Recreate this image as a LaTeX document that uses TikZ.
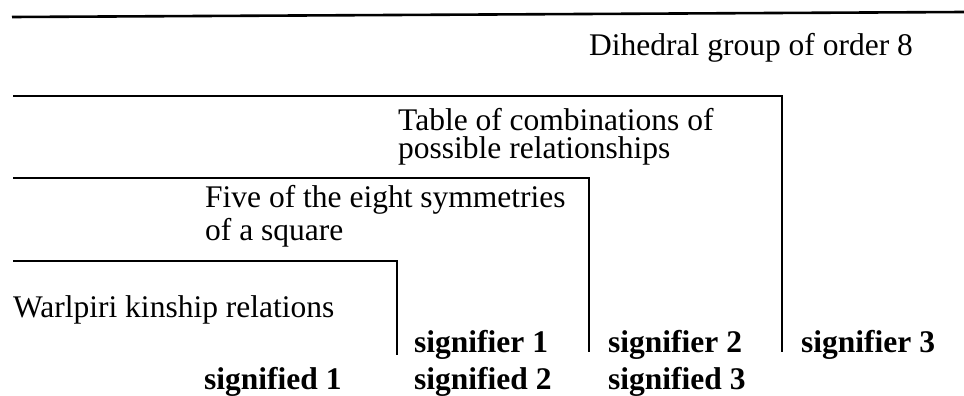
\documentclass[tikz,border=0pt]{standalone}
\usepackage{fontspec}
\setmainfont{Liberation Serif}
\newcommand{\twolines}[3]{\vtop{\baselineskip=#1\lineskiplimit=-100pt\lineskip=0pt\hbox{#2}\hbox{#3}}}
\begin{document}
\begin{tikzpicture}[x=1pt,y=-1pt,
  txt/.style={anchor=base west, inner sep=0pt, font=\fontsize{31.5}{30}\selectfont},
  bld/.style={anchor=base west, inner sep=0pt, font=\fontsize{31.5}{30}\selectfont\bfseries},
  rule/.style={line width=2.6pt, line cap=butt, line join=miter}]
\useasboundingbox (0,0) rectangle (964,396);
% brackets
\draw[rule] (12,17) -- (964,12);
\draw[rule] (13,96) -- (782,96) -- (782,352);
\draw[rule] (13,178) -- (589,178) -- (589,352);
\draw[rule] (13,261) -- (397,261) -- (397,355);
% texts
\node[txt] (dihedral) at (589,56) {Dihedral group of order 8};
\node[txt] (table) at (398,130) {\twolines{28.5pt}{Table of combinations of}{possible relationships}};
\node[txt] (five) at (205,207) {\twolines{33pt}{Five of the eight symmetries}{of a square}};
\node[txt] (warlpiri) at (13,317) {Warlpiri kinship relations};
\node[bld] (sr1) at (414,352) {signifier 1};
\node[bld] (sr2) at (608,352) {signifier 2};
\node[bld] (sr3) at (801,352) {signifier 3};
\node[bld] (sd1) at (204,389) {signified 1};
\node[bld] (sd2) at (414,389) {signified 2};
\node[bld] (sd3) at (608,389) {signified 3};
\end{tikzpicture}
\end{document}
